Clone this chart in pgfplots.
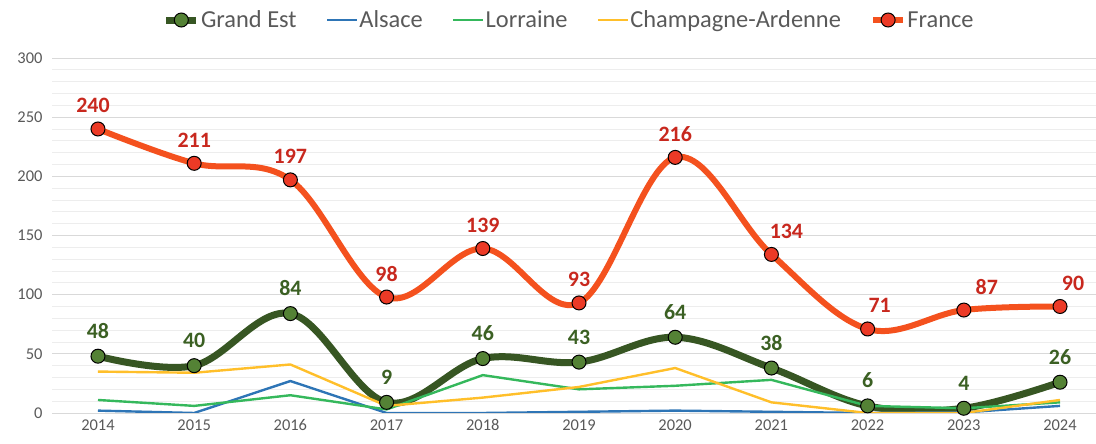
\documentclass[border=0pt]{standalone}
\usepackage{pgfplots}
\pgfplotsset{compat=1.18}
\usepackage{pgfplotstable}
\usepackage{fontspec}
\setmainfont{Carlito}
\definecolor{frline}{HTML}{F4511E}
\definecolor{frmark}{HTML}{EC3A26}
\definecolor{frlab}{HTML}{C8281E}
\definecolor{geline}{HTML}{375623}
\definecolor{gemark}{HTML}{548235}
\definecolor{gelab}{HTML}{3B6023}
\definecolor{alc}{HTML}{2E75B6}
\definecolor{loc}{HTML}{35B85C}
\definecolor{chc}{HTML}{FFBF2A}
\definecolor{txt}{HTML}{595959}
\pgfplotstableread{
x    ge al lo ch fr  gdx frdx
2014 48 2  11 35 240 0   -5
2015 40 0  6  34 211 0   0
2016 84 27 15 41 197 0   0
2017 9  0  3  6  98  0   0
2018 46 0  32 13 139 0   0
2019 43 1  20 22 93  0   0
2020 64 2  23 38 216 0   0
2021 38 1  28 9  134 0   15
2022 6  0  6  0  71  0   12
2023 4  0.5 4 0  87  0   23
2024 26 6  9  11 90  0   13
}\data
\begin{document}
\begin{tikzpicture}[x=1bp,y=1bp]
\useasboundingbox (0,0) rectangle (1096,444);
\begin{axis}[
  at={(52bp,31bp)}, anchor=south west,
  scale only axis, width=1044bp, height=355bp,
  xmin=2013.522, xmax=2024.374, ymin=0, ymax=300,
  xtick={2014,...,2024}, ytick={0,50,...,300},
  minor y tick num=4,
  ymajorgrids, yminorgrids,
  major grid style={draw=black!15, line width=0.8bp},
  minor grid style={draw=black!7, line width=0.8bp},
  axis line style={draw=none},
  tick style={draw=none},
  major tick length=0pt, minor tick length=0pt,
  /pgf/number format/assume math mode=true,
  xticklabel={\pgfmathprintnumber[1000 sep={}]{\tick}},
  ticklabel style={font=\fontsize{16.5}{19}\selectfont, text=txt},
  xticklabel style={yshift=-3bp},
  yticklabel style={xshift=-6bp},
  legend style={at={(0.495,1.107)}, anchor=center, draw=none, fill=none,
    font=\fontsize{24.5}{28}\selectfont, text=txt,
    nodes={inner sep=1.2bp},
    /tikz/every even column/.append style={column sep=28bp}},
  legend columns=5,
  legend image code/.code={\draw[mark repeat=2,mark phase=2,#1] plot coordinates {(0bp,0bp) (15bp,0bp) (30bp,0bp)};},
  every node near coord/.append style={font=\bfseries\fontsize{22}{26}\selectfont, anchor=base, inner sep=0pt},
]
\addplot[geline, line width=7bp, smooth, tension=0.6,
  mark=*, mark size=7bp, mark options={fill=gemark, draw=black, line width=1bp},
  nodes near coords, every node near coord/.append style={text=gelab, yshift=18bp}]
  table[x=x,y=ge] {\data};
\addlegendentry{Grand Est}
\addplot[alc, line width=2.4bp] table[x=x,y=al] {\data};
\addlegendentry{Alsace}
\addplot[loc, line width=2.4bp] table[x=x,y=lo] {\data};
\addlegendentry{Lorraine}
\addplot[chc, line width=2.4bp] table[x=x,y=ch] {\data};
\addlegendentry{Champagne-Ardenne}
\addplot[frline, line width=6bp, smooth, tension=0.6,
  mark=*, mark size=7bp, mark options={fill=frmark, draw=black, line width=1bp},
  visualization depends on={\thisrow{frdx}\as\frdx},
  nodes near coords, every node near coord/.append style={text=frlab, yshift=16bp, xshift=\frdx bp}]
  table[x=x,y=fr] {\data};
\addlegendentry{France}
\end{axis}
\end{tikzpicture}
\end{document}
